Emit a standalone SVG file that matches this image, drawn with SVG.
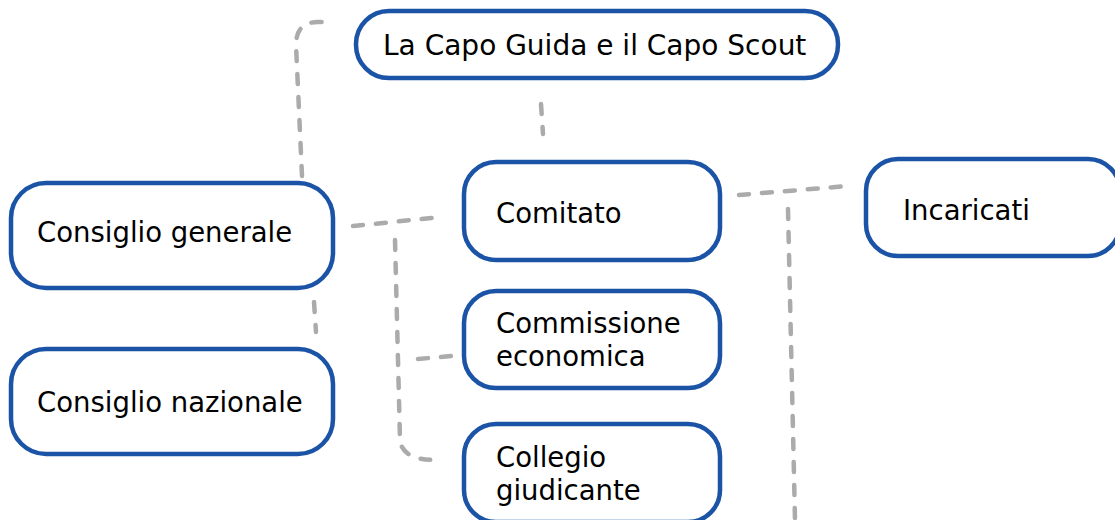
<svg xmlns="http://www.w3.org/2000/svg" width="1115" height="520" viewBox="0 0 1115 520">
<style>
.box{fill:#fff;stroke:#1B53A6;stroke-width:4.5}
.t{font-family:"DejaVu Sans","Liberation Sans",sans-serif;font-size:27.5px;fill:#000}
.c{fill:none;stroke:#ABABAB;stroke-width:4.5;stroke-linecap:round;stroke-dasharray:10 13}
</style>
<rect width="1115" height="520" fill="#fff"/>
<g id="connectors">
<path class="c" d="M302,176 L296,45 Q296,22 318,22 L334,22"/>
<path class="c" d="M541,104 L543,134"/>
<path class="c" d="M353,226 L441,217"/>
<path class="c" d="M395,240 L400,440 Q402,460 436,460"/>
<path class="c" d="M418,359 L452,356"/>
<path class="c" d="M739,195 L848,186"/>
<path class="c" d="M788,209 L795,520"/>
<path class="c" d="M314,302 L316,332"/>
</g>
<g id="capo"><rect class="box" x="356" y="11" width="482" height="67" rx="33"/><text class="t" x="383" y="55" style="font-size:28px">La Capo Guida e il Capo Scout</text></g>
<g id="consiglio-generale"><rect class="box" x="11" y="183" width="322" height="105" rx="35"/><text class="t" x="37" y="242">Consiglio generale</text></g>
<g id="consiglio-nazionale"><rect class="box" x="11" y="349" width="322" height="105" rx="35"/><text class="t" x="37" y="412">Consiglio nazionale</text></g>
<g id="comitato"><rect class="box" x="464" y="162" width="256" height="98" rx="32"/><text class="t" x="496" y="223">Comitato</text></g>
<g id="commissione"><rect class="box" x="464" y="291" width="256" height="97" rx="32"/><text class="t" x="496" y="333">Commissione</text><text class="t" x="496" y="366">economica</text></g>
<g id="collegio"><rect class="box" x="464" y="424" width="256" height="98" rx="32"/><text class="t" x="496" y="467">Collegio</text><text class="t" x="496" y="500">giudicante</text></g>
<g id="incaricati"><rect class="box" x="866" y="159" width="254" height="97" rx="32"/><text class="t" x="903" y="220">Incaricati</text></g>
</svg>
